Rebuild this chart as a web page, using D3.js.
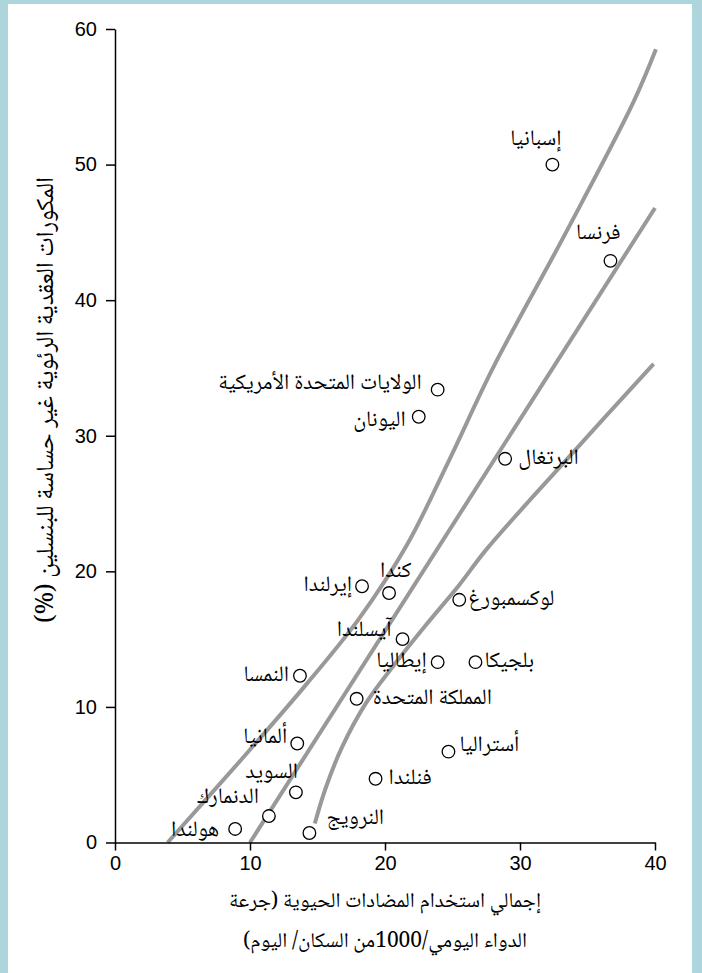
<!DOCTYPE html>
<html>
<head>
<meta charset="utf-8">
<script src="https://cdn.jsdelivr.net/npm/d3@7/dist/d3.min.js"></script>
<style>
  html, body { margin: 0; padding: 0; background: #acd5dc; }
  svg { display: block; }
</style>
</head>
<body>
<svg id="chart" width="702" height="973"></svg>
<script>
// ---------- data ----------
const countries = ["إسبانيا","فرنسا","الولايات المتحدة الأمريكية","اليونان","البرتغال","كندا","إيرلندا","لوكسمبورغ","آيسلندا","إيطاليا","بلجيكا","النمسا","المملكة المتحدة","ألمانيا","أستراليا","فنلندا","السويد","الدنمارك","هولندا","النرويج"];
const usage      = [32.4, 36.7, 23.9, 22.5, 28.9, 20.3, 18.3, 25.5, 21.3, 23.9, 26.7, 13.7, 17.9, 13.5, 24.7, 19.3, 13.4, 11.4, 8.9, 14.4];
const resistance = [50.0, 42.9, 33.4, 31.4, 28.3, 18.4, 18.9, 17.9, 15.0, 13.3, 13.3, 12.3, 10.6, 7.3, 6.7, 4.7, 3.7, 1.95, 1.0, 0.7];

const upperBandX = [3.9, 9.3, 14.2, 18.0, 21.6, 24.8, 28.0, 33.3, 38.4, 40.07];
const upperBandY = [0, 6.05, 11.7, 16.4, 21.9, 28.3, 35.0, 44.8, 54.6, 58.5];
const fitLineX   = [10, 40];
const fitLineY   = [0, 46.8];
const lowerBandX = [14.8, 15.6, 16.8, 18.6, 20.6, 23.0, 25.5, 27.5, 33.5, 39.9];
const lowerBandY = [1.4, 4.0, 7.0, 10.3, 13.0, 16.0, 19.0, 21.6, 28.3, 35.3];

const xTicks = [0, 10, 20, 30, 40];
const yTicks = [0, 10, 20, 30, 40, 50, 60];

const yTitle = "المكورات العقدية الرئوية غير حساسة للبنسلين (%)";
const xTitle1 = "إجمالي استخدام المضادات الحيوية (جرعة";
const xTitle2 = "الدواء اليومي/1000من السكان/ اليوم)";

// label layout (anchor, dx, dy relative to the point)
const labelLayout = [
  ["end", 9, -25], ["end", 10, -27], ["end", -16, -6], ["end", -13, 4], ["start", 13, 0],
  ["start", -9, -21], ["end", -10, 0], ["start", 9, 0], ["end", -11, -8], ["end", -11, 0],
  ["start", 9, 0], ["end", -11, 0], ["start", 16, 0], ["end", -10, -6], ["start", 11, -6],
  ["start", 13, 0], ["end", 2, -19], ["end", -10, -18], ["end", -16, 2], ["start", 17, -14]
];

// ---------- drawing ----------
const svg = d3.select("#chart");
const arabicFont = "'Noto Naskh Arabic','Amiri','Scheherazade New','DejaVu Sans',serif";
const numFont = "'Liberation Sans', Arial, sans-serif";

svg.append("rect").attr("x", 8).attr("y", 4).attr("width", 684).attr("height", 969).attr("fill", "#ffffff");

const x = d3.scaleLinear().domain([0, 40]).range([115, 655]);
const y = d3.scaleLinear().domain([0, 60]).range([842.5, 29]);

const line = d3.line().x(d => x(d[0])).y(d => y(d[1])).curve(d3.curveCatmullRom.alpha(0.5));

const curves = [
  d3.zip(upperBandX, upperBandY),
  d3.zip(fitLineX, fitLineY),
  d3.zip(lowerBandX, lowerBandY)
];
svg.append("g").selectAll("path").data(curves).join("path")
  .attr("d", line)
  .attr("fill", "none")
  .attr("stroke", "#999999")
  .attr("stroke-width", 4);

// axes
const yAxis = svg.append("g").attr("transform", `translate(${x(0)},0)`)
  .call(d3.axisLeft(y).tickValues(yTicks).tickSize(9).tickSizeOuter(0).tickPadding(9));
const xAxis = svg.append("g").attr("transform", `translate(0,${y(0)})`)
  .call(d3.axisBottom(x).tickValues(xTicks).tickSize(8).tickSizeOuter(0).tickPadding(5));
[xAxis, yAxis].forEach(g => {
  g.selectAll("path, line").attr("stroke", "#000").attr("stroke-width", 1.5);
  g.selectAll("text").attr("font-family", numFont).attr("font-size", 20).attr("fill", "#000");
});

// points
const pts = countries.map((c, i) => ({name: c, vx: usage[i], vy: resistance[i], lay: labelLayout[i]}));
svg.append("g").selectAll("circle").data(pts).join("circle")
  .attr("cx", d => x(d.vx)).attr("cy", d => y(d.vy)).attr("r", 6.3)
  .attr("fill", "#fff").attr("stroke", "#000").attr("stroke-width", 1.3);

svg.append("g").selectAll("text").data(pts).join("text")
  .attr("x", d => x(d.vx) + d.lay[1])
  .attr("y", d => y(d.vy) + d.lay[2])
  .attr("text-anchor", d => d.lay[0])
  .attr("dominant-baseline", "central")
  .attr("font-family", arabicFont)
  .attr("font-size", 22)
  .attr("fill", "#000")
  .text(d => d.name);

// titles
svg.append("text")
  .attr("transform", `translate(47,400) rotate(-90)`)
  .attr("text-anchor", "middle")
  .attr("dominant-baseline", "central")
  .attr("direction", "rtl")
  .attr("font-family", arabicFont)
  .attr("font-size", 25)
  .text(yTitle);

svg.append("text")
  .attr("x", 385).attr("y", 902)
  .attr("text-anchor", "middle")
  .attr("dominant-baseline", "central")
  .attr("direction", "rtl")
  .attr("font-family", arabicFont)
  .attr("font-size", 21)
  .text(xTitle1);
svg.append("text")
  .attr("x", 385).attr("y", 942)
  .attr("text-anchor", "middle")
  .attr("dominant-baseline", "central")
  .attr("direction", "rtl")
  .attr("font-family", arabicFont)
  .attr("font-size", 21)
  .text(xTitle2);
</script>
</body>
</html>
